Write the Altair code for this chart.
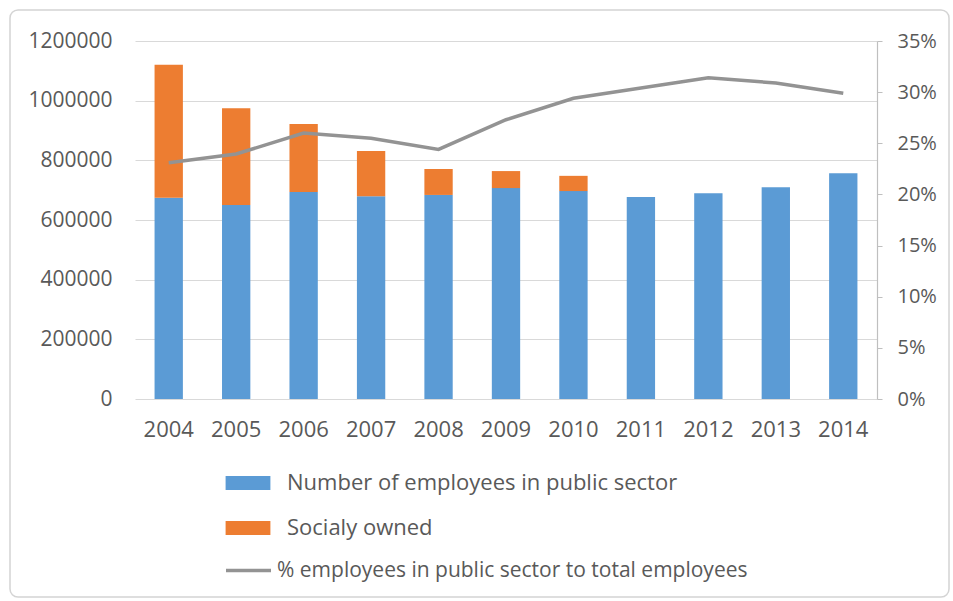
import altair as alt
import pandas as pd

years = ["2004", "2005", "2006", "2007", "2008", "2009", "2010", "2011", "2012", "2013", "2014"]
public_sector = [675000, 650000, 694000, 680000, 684000, 707000, 697000, 677000, 690000, 710000, 757000]
totals = [1120000, 975000, 922000, 831000, 771000, 764000, 748000, 677000, 690000, 710000, 757000]
pct_public = [0.231, 0.2395, 0.260, 0.255, 0.244, 0.273, 0.294, 0.304, 0.314, 0.309, 0.299]

s_pub = "Number of employees in public sector"
s_soc = "Socialy owned"
s_pct = "% employees in public sector to total employees"

socially_owned = [t - p for t, p in zip(totals, public_sector)]

bars = pd.DataFrame({
    "year": years * 2,
    "series": [s_pub] * len(years) + [s_soc] * len(years),
    "value": public_sector + socially_owned,
    "order": [0] * len(years) + [1] * len(years),
})
line_df = pd.DataFrame({"year": years, "pct": pct_public, "series": [s_pct] * len(years)})

FONT = "Open Sans"
TXT = "#595959"
W, H = 742, 358

xenc = alt.X("year:O", title=None,
             scale=alt.Scale(paddingInner=0.58, paddingOuter=0.29),
             axis=alt.Axis(domain=False, ticks=False, labelAngle=0, labelPadding=20,
                           labelFontSize=22, labelColor=TXT, labelFont=FONT))

frame = alt.Chart(pd.DataFrame({"f": [0]})).mark_rect(
    fillOpacity=0, stroke="#d4d4d4", strokeWidth=1.5, cornerRadius=8
).encode(x=alt.value(-125), x2=alt.value(W + 72), y=alt.value(-31), y2=alt.value(H + 198))

bar = alt.Chart(bars).mark_bar().encode(
    x=xenc,
    y=alt.Y("value:Q", title=None, stack="zero",
            scale=alt.Scale(domain=[0, 1200000]),
            axis=alt.Axis(values=[0, 200000, 400000, 600000, 800000, 1000000, 1200000],
                          format="d", domain=False, ticks=False, labelPadding=23,
                          gridColor="#d9d9d9", gridWidth=1.2,
                          labelFontSize=21, labelColor=TXT, labelFont=FONT)),
    color=alt.Color("series:N",
                    scale=alt.Scale(domain=[s_pub, s_soc], range=["#5B9BD5", "#ED7D31"]),
                    legend=alt.Legend(title=None, orient="none", legendX=99, legendY=428,
                                      direction="vertical",
                                      symbolType="M-1.6,-0.5H1.6V0.5H-1.6Z", symbolSize=784,
                                      symbolStrokeWidth=0, rowPadding=20, labelOffset=25,
                                      labelFontSize=22, labelColor=TXT, labelFont=FONT,
                                      labelLimit=600)),
    order=alt.Order("order:Q"),
)

line = alt.Chart(line_df).mark_line(strokeWidth=3.5).encode(
    x=xenc,
    y=alt.Y("pct:Q", title=None, scale=alt.Scale(domain=[0, 0.35]),
            axis=alt.Axis(orient="right", values=[0, 0.05, 0.1, 0.15, 0.2, 0.25, 0.3, 0.35],
                          format=".0%", grid=False, domain=True, domainColor="#bfbfbf",
                          domainWidth=1.2, ticks=True, tickColor="#bfbfbf", tickSize=5,
                          labelPadding=15, labelFontSize=20, labelColor=TXT, labelFont=FONT)),
    stroke=alt.Stroke("series:N",
                      scale=alt.Scale(domain=[s_pct], range=["#939393"]),
                      legend=alt.Legend(title=None, orient="none", legendX=89, legendY=505,
                                        symbolType="stroke", symbolSize=2025,
                                        symbolStrokeWidth=3.5, labelOffset=4,
                                        labelFontSize=21, labelColor=TXT, labelFont=FONT,
                                        labelLimit=600)),
)

chart = alt.layer(frame, bar, line).resolve_scale(y="independent", color="independent").properties(
    width=W, height=H,
    autosize=alt.AutoSizeParams(type="none"),
    padding={"left": 135, "top": 41, "right": 953 - 135 - W, "bottom": 601 - 41 - H},
    background="white",
).configure_view(stroke=None)

chart.save("out.html", embed_options={"renderer": "svg", "actions": False})
